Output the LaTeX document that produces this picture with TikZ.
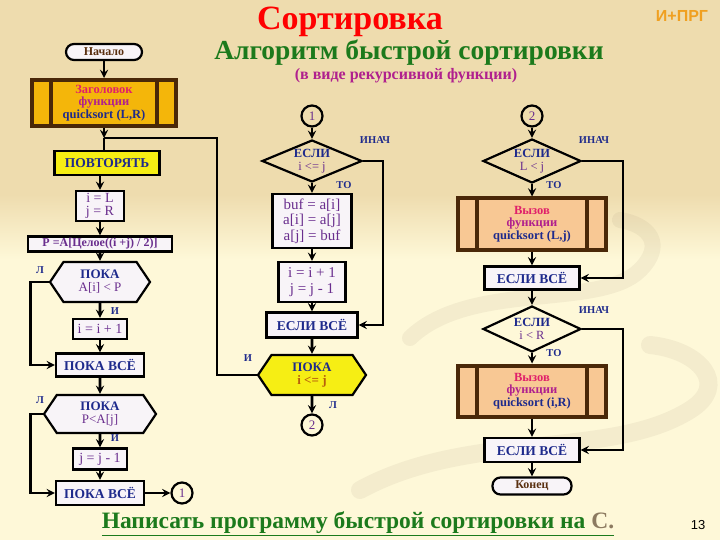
\documentclass[tikz,border=0pt]{standalone}
\usepackage{fontspec}
\setmainfont{Liberation Serif}
\newfontfamily\sansf{Liberation Sans}
\usetikzlibrary{shapes.geometric,shapes.symbols,positioning}
\definecolor{navy}{HTML}{1E2A8C}
\definecolor{lila}{HTML}{6A2E8E}
\definecolor{brn}{HTML}{5A3010}
\definecolor{frame}{HTML}{4A2808}
\definecolor{hdrfill}{HTML}{F4B60A}
\definecolor{callfill}{HTML}{F8C894}
\definecolor{yel}{HTML}{F6EE14}
\definecolor{boxfill}{HTML}{F8F4F8}
\definecolor{bgtop}{HTML}{EEDCAE}
\definecolor{bgbot}{HTML}{FEF8D8}
\definecolor{swirl}{HTML}{9C8C70}
\definecolor{grn}{HTML}{1C7A1C}
\definecolor{mag}{HTML}{B0208E}
\definecolor{pinkred}{HTML}{E0206A}
\definecolor{org}{HTML}{F0A020}
\definecolor{ochre}{HTML}{B8600C}
\definecolor{cgray}{HTML}{8C7A60}
\pgfdeclareverticalshading{slidebg}{100bp}{color(0bp)=(bgbot); color(51bp)=(bgbot); color(57bp)=(bgtop); color(100bp)=(bgtop)}
\newcommand{\cnd}[2]{#1\\{\mdseries\color{lila}#2}}
\begin{document}
\begin{tikzpicture}[x=1pt,y=-1pt,>=stealth,
  line/.style={line width=2.6pt},
  blk/.style={draw,line width=2.2pt,fill=boxfill,inner sep=1pt,align=center,font=\fontsize{13.5}{14}\selectfont\bfseries,text=navy},
  op/.style={blk,font=\fontsize{15}{15.5}\selectfont,text=lila},
  cond/.style={diamond,aspect=2.3,draw,line width=2.2pt,inner sep=0pt,align=center,font=\fontsize{12.5}{12.5}\selectfont\bfseries,text=navy},
  loopy/.style={signal,signal to=west and east,signal pointer angle=112,draw,line width=2.2pt,fill=boxfill,inner sep=0pt,align=center,font=\fontsize{13}{13}\selectfont\bfseries,text=navy},
  term/.style={draw,line width=2.2pt,rounded corners=8pt,fill=boxfill,inner sep=0pt,font=\fontsize{12}{12}\selectfont\bfseries,text=brn},
  call/.style={draw=frame,line width=4pt,inner sep=0pt,align=center,font=\fontsize{12.5}{12.5}\selectfont\bfseries,
    path picture={\draw[frame,line width=4pt] ([xshift=19pt]path picture bounding box.north west) -- ([xshift=19pt]path picture bounding box.south west)
      ([xshift=-19pt]path picture bounding box.north east) -- ([xshift=-19pt]path picture bounding box.south east);}},
  conn/.style={circle,draw,line width=2.2pt,minimum size=21pt,inner sep=0pt,font=\fontsize{13}{13}\selectfont,text=lila},
  tag/.style={font=\fontsize{10.5}{10.5}\selectfont\bfseries,text=navy,inner sep=0pt}]
\useasboundingbox (0,0) rectangle (720,540);
% фон слайда
\begin{scope}
\clip (0,0) rectangle (720,540);
\shade[shading=slidebg] (0,0) rectangle (720,540);
\draw[swirl,opacity=.10,line width=16pt,line cap=round] (410,338) .. controls (470,280) and (600,310) .. (640,270) .. controls (665,245) and (650,225) .. (620,220);
\draw[swirl,opacity=.10,line width=18pt,line cap=round] (360,490) .. controls (470,430) and (610,460) .. (690,410) .. controls (730,385) and (700,350) .. (650,345);
\end{scope}
% заголовки
\node[text=red,font=\fontsize{34}{34}\selectfont\bfseries] (title) at (350,22) {Сортировка};
\node[text=org,font=\sansf\fontsize{16}{16}\selectfont\bfseries] (brand) at (682,16) {И+ПРГ};
\node[text=grn,font=\fontsize{27.5}{27.5}\selectfont\bfseries] (sub) at (409,53) {Алгоритм быстрой сортировки};
\node[text=mag,font=\fontsize{16}{16}\selectfont\bfseries] (note) at (406,76) {(в виде рекурсивной функции)};
\node[text=grn,font=\fontsize{23.5}{23.5}\selectfont\bfseries] (task) at (358,524) {\underline{Написать программу быстрой сортировки на {\color{cgray}C.}}};
\node[font=\sansf\fontsize{13}{13}\selectfont] (pg) at (698,525) {13};
% левая колонка: разбиение
\node[term,minimum width=76pt,minimum height=16pt] (start) at (104,52) {Начало};
\node[call,fill=hdrfill,minimum width=144pt,minimum height=46pt] (hdr) at (104,103) {\color{pinkred}Заголовок\\\color{mag}функции\\\color{navy}quicksort (L,R)};
\node[blk,fill=yel,minimum width=105pt,minimum height=24pt] (rep) at (107,163) {ПОВТОРЯТЬ};
\node[op,minimum width=48pt,minimum height=30pt,font=\fontsize{14}{13}\selectfont] (init) at (100,206) {i = L\\j = R};
\node[op,minimum width=144pt,minimum height=15pt,font=\fontsize{12}{12}\selectfont\bfseries] (mid) at (100,244) {P =A[Целое((i +j) / 2)]};
\node[loopy,minimum width=100pt,minimum height=40pt] (wi) at (100,282) {\cnd{ПОКА}{A[i] < P}};
\node[op,minimum width=54pt,minimum height=20pt,font=\fontsize{14}{14}\selectfont] (inci) at (100,329) {i = i + 1};
\node[blk,minimum width=88pt,minimum height=23pt] (endwi) at (100,365) {ПОКА ВСЁ};
\node[loopy,minimum width=112pt,minimum height=38pt] (wj) at (100,414) {\cnd{ПОКА}{P<A[j]}};
\node[op,minimum width=54pt,minimum height=21pt,font=\fontsize{14}{14}\selectfont] (decj) at (100,459) {j = j - 1};
\node[blk,minimum width=88pt,minimum height=24pt] (endwj) at (100,493) {ПОКА ВСЁ};
\node[conn] (out1) at (182,493) {1};
\coordinate (jn) at (104,138);
\coordinate (back) at (217,138);
\draw[line,->] (start) -- (hdr);
\draw[line,->] (hdr) -- (jn);
\draw[line] (jn) -- (jn |- rep.north);
\draw[line,->] (rep.south -| init) -- (init);
\draw[line,->] (init) -- (mid);
\draw[line,->] (mid) -- (wi);
\draw[line,->] (wi) -- (inci);
\draw[line,->] (inci) -- (endwi);
\draw[line,->] (endwi) -- (wj);
\draw[line,->] (wj) -- (decj);
\draw[line,->] (decj) -- (endwj);
\draw[line,->] (endwj) -- (out1);
\draw[line,->] (wi.west) -- ++(-18,0) |- (endwi);
\draw[line,->] (wj.west) -- ++(-12,0) |- (endwj);
\node[tag] (li) at (40,270) {Л};
\node[tag] (ii) at (115,311) {И};
\node[tag] (lj) at (40,400) {Л};
\node[tag] (ij) at (115,438) {И};
% средняя колонка: обмен
\node[conn] (in1) at (312,116) {1};
\node[cond,minimum width=100pt,minimum height=42pt] (ifij) at (312,161) {\cnd{ЕСЛИ}{i <= j}};
\node[op,minimum width=79pt,minimum height=54pt] (swap) at (312,221) {buf = a[i]\\a[i] = a[j]\\a[j] = buf};
\node[op,minimum width=67pt,minimum height=40pt] (step) at (312,282) {i = i + 1\\j = j - 1};
\node[blk,minimum width=91pt,minimum height=25pt] (fi1) at (312,325) {ЕСЛИ ВСЁ};
\node[loopy,fill=yel,minimum width=108pt,minimum height=40pt] (wij) at (312,375) {ПОКА\\{\color{ochre}i <= j}};
\node[conn] (out2) at (312,425) {2};
\draw[line,->] (in1) -- (ifij);
\draw[line,->] (ifij) -- (swap);
\draw[line,->] (swap) -- (step);
\draw[line,->] (step) -- (fi1);
\draw[line,->] (fi1) -- (wij);
\draw[line,->] (wij) -- (out2);
\draw[line,->] (ifij.east) -- ++(20,0) |- (fi1);
\draw[line] (wij.west) -| (back) -- (jn);
\node[tag] (else1) at (375,140) {ИНАЧ};
\node[tag] (then1) at (344,185) {ТО};
\node[tag] (iw) at (248,358) {И};
\node[tag] (lw) at (333,405) {Л};
% правая колонка: рекурсия
\node[conn] (in2) at (532,116) {2};
\node[cond,minimum width=98pt,minimum height=44pt] (ifl) at (532,161) {\cnd{ЕСЛИ}{L < j}};
\node[call,fill=callfill,minimum width=148pt,minimum height=51pt] (cl) at (532,224) {\color{pinkred}Вызов\\\color{mag}функции\\\color{navy}quicksort (L,j)};
\node[blk,minimum width=95pt,minimum height=23pt] (fi2) at (532,278) {ЕСЛИ ВСЁ};
\node[cond,minimum width=98pt,minimum height=46pt] (ifr) at (532,329) {\cnd{ЕСЛИ}{i < R}};
\node[call,fill=callfill,minimum width=148pt,minimum height=51pt] (cr) at (532,391) {\color{pinkred}Вызов\\\color{mag}функции\\\color{navy}quicksort (i,R)};
\node[blk,minimum width=95pt,minimum height=24pt] (fi3) at (532,450) {ЕСЛИ ВСЁ};
\node[term,minimum width=79pt,minimum height=17pt] (fin) at (532,486) {Конец};
\draw[line,->] (in2) -- (ifl);
\draw[line,->] (ifl) -- (cl);
\draw[line,->] (cl) -- (fi2);
\draw[line,->] (fi2) -- (ifr);
\draw[line,->] (ifr) -- (cr);
\draw[line,->] (cr) -- (fi3);
\draw[line,->] (fi3) -- (fin);
\draw[line,->] (ifl.east) -- ++(41,0) |- (fi2);
\draw[line,->] (ifr.east) -- ++(41,0) |- (fi3);
\node[tag] (else2) at (594,140) {ИНАЧ};
\node[tag] (then2) at (554,185) {ТО};
\node[tag] (else3) at (594,310) {ИНАЧ};
\node[tag] (then3) at (554,353) {ТО};
\end{tikzpicture}
\end{document}
